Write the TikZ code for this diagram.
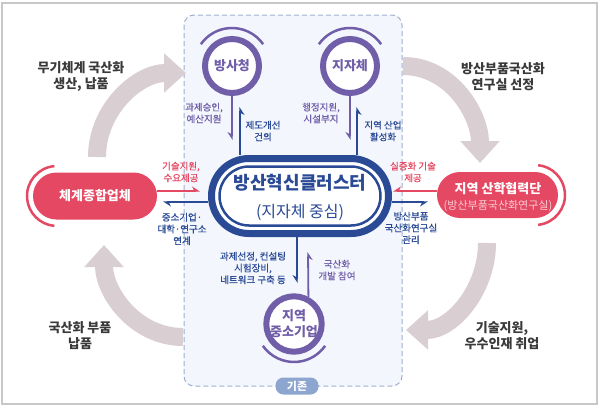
\documentclass[tikz,border=0pt]{standalone}
\usepackage{fontspec}
\setmainfont{Noto Sans CJK KR}
\newfontfamily\medfont{Noto Sans CJK KR}[FakeBold=0.6]
\usetikzlibrary{arrows.meta}
\definecolor{navy}{RGB}{43,74,150}
\definecolor{purp}{RGB}{112,94,168}
\definecolor{redc}{RGB}{229,72,98}
\definecolor{lpink}{RGB}{250,205,212}
\definecolor{arcg}{RGB}{217,206,209}
\definecolor{boxb}{RGB}{157,175,208}
\definecolor{boxf}{RGB}{243,246,252}
\definecolor{pill}{RGB}{140,166,207}
\definecolor{dark}{RGB}{58,58,58}
\definecolor{frame}{RGB}{200,200,200}
\begin{document}
\begin{tikzpicture}[x=1pt,y=1pt,
  bigarc/.style={line width=18pt, draw=arcg, -{Triangle[length=22pt,width=38pt]}},
  ring/.style={circle, draw=purp, line width=6pt, fill=white, minimum size=54pt, inner sep=0pt, text=purp, align=center, font=\bfseries\fontsize{13}{16}\selectfont},
  ringarc/.style={draw=purp, line width=2.5pt},
  lbl/.style={font=\medfont\fontsize{9.5}{11.8}\selectfont, align=center, inner sep=0pt},
  corner/.style={font=\bfseries\fontsize{13}{16}\selectfont, text=dark, align=center, inner sep=0pt},
  redbox/.style={fill=redc, inner sep=0pt},
  redarc/.style={draw=redc, line width=2.5pt},
  harpL/.style={-{Stealth[harpoon, length=7pt, width=9pt]}, line width=1.8pt},
  harpR/.style={-{Stealth[harpoon, swap, length=7pt, width=9pt]}, line width=1.8pt},
]
\useasboundingbox (0,0) rectangle (600,-410);
\fill[white] (0,0) rectangle (600,-410);
\draw[frame, line width=1.2pt] (2,-3) rectangle (597,-404);

% dashed region
\draw[boxb, dash pattern=on 5pt off 3pt, line width=1pt, fill=boxf, rounded corners=10pt] (184,-15) rectangle (402,-386);

% big grey cycle arrows
\coordinate (g1s) at (97,-157);  \coordinate (g1e) at (186,-73);
\coordinate (g2s) at (403,-66);  \coordinate (g2e) at (480,-163);
\coordinate (g3s) at (487,-243); \coordinate (g3e) at (406,-330);
\coordinate (g4s) at (183,-337); \coordinate (g4e) at (104,-245);
\draw[bigarc] (g1s) to[out=90,in=180] (g1e);
\draw[bigarc] (g2s) to[out=0,in=90] (g2e);
\draw[bigarc] (g3s) to[out=-90,in=0] (g3e);
\draw[bigarc] (g4s) to[out=180,in=-90] (g4e);

% pill
\node[fill=pill, rounded corners=8pt, minimum width=43pt, minimum height=17pt, inner sep=0pt, text=white, font=\bfseries\fontsize{11}{12}\selectfont] (gz) at (297,-386) {기존};

% purple circles
\node[ring] (bsc) at (232,-66) {방사청};
\node[ring] (jjc) at (350,-66) {지자체};
\node[ring] (sme) at (294,-324) {지역\\중소기업};
\draw[ringarc] ([shift={(35:38)}]bsc.center) arc[start angle=35, end angle=145, radius=38];
\draw[ringarc] ([shift={(35:38)}]jjc.center) arc[start angle=35, end angle=145, radius=38];
\draw[ringarc] ([shift={(215:38)}]sme.center) arc[start angle=215, end angle=325, radius=38];

% hub
\node[draw=navy, line width=7pt, rounded corners=37.5pt, minimum width=177pt, minimum height=75pt, fill=white, inner sep=0pt] (hub) at (300,-196) {};
\node[draw=navy, line width=2.5pt, rounded corners=29.5pt, minimum width=161pt, minimum height=59pt, inner sep=0pt] (hubin) at (300,-196) {};
\node[text=navy, font=\bfseries\fontsize{18}{20}\selectfont, inner sep=0pt] (t1) at (300,-183) {방산혁신클러스터};
\node[text=navy, font=\fontsize{16}{18}\selectfont, inner sep=0pt] (t2) at (300,-212) {(지자체 중심)};

% red boxes
\node[redbox, rounded corners=23.5pt, minimum width=124pt, minimum height=47pt, text=white, font=\bfseries\fontsize{13}{15}\selectfont] (lbox) at (95,-196) {체계종합업체};
\node[redbox, rounded corners=23pt, minimum width=121pt, minimum height=46pt] (rbox) at (497.5,-195) {};
\node[text=white, font=\bfseries\fontsize{13}{15}\selectfont, inner sep=0pt] (rt1) at (498,-189) {지역 산학협력단};
\node[text=lpink, font=\fontsize{11}{13}\selectfont, inner sep=0pt] (rt2) at (498,-206) {(방산부품국산화연구실)};
\coordinate (lc) at (57,-196);
\coordinate (rc) at (535,-195);
\draw[redarc] ([shift={(95:30)}]lc) arc[start angle=95, end angle=265, radius=30];
\draw[redarc] ([shift={(-84:30)}]rc) arc[start angle=-84, end angle=84, radius=30];

% connectors top
\coordinate (p1) at (232,-140);
\coordinate (b1) at (240,-107);
\coordinate (p2) at (350,-140);
\coordinate (b2) at (357,-107);
\draw[harpR, purp] (bsc.south) -- (p1);
\draw[harpR, navy] (b1 |- hub.north) -- (b1);
\draw[harpR, purp] (jjc.south) -- (p2);
\draw[harpR, navy] (b2 |- hub.north) -- (b2);
% connectors bottom
\coordinate (b3) at (297,-283);
\coordinate (p3) at (308,-252);
\draw[harpR, navy] (b3 |- hub.south) -- (b3);
\draw[harpR, purp] (sme.62) -- (p3);
% connectors left
\coordinate (r1) at (200,-191);
\coordinate (b4) at (163,-202);
\draw[harpL, redc] (r1 -| lbox.east) -- (r1);
\draw[harpL, navy] (b4 -| hub.west) -- (b4);
% connectors right
\coordinate (r2) at (393,-191);
\coordinate (b5) at (428,-202);
\draw[harpR, redc] (r2 -| rbox.west) -- (r2);
\draw[harpR, navy] (b5 -| hub.east) -- (b5);

% small labels
\node[lbl, text=purp] (l1) at (204,-113) {과제승인,\\예산지원};
\node[lbl, text=navy] (l2) at (263,-131) {제도개선\\건의};
\node[lbl, text=purp] (l3) at (321,-113) {행정지원,\\시설부지};
\node[lbl, text=navy] (l4) at (383,-131) {지역 산업\\활성화};
\node[lbl, text=navy] (l5) at (253,-268) {과제선정, 컨설팅\\시험장비,\\네트워크 구축 등};
\node[lbl, text=purp] (l6) at (337,-270) {국산화\\개발 참여};
\node[lbl, text=redc] (l7) at (181,-172) {기술지원,\\수요제공};
\node[lbl, text=navy] (l8) at (182,-229) {중소기업·\\대학·연구소\\연계};
\node[lbl, text=redc] (l9) at (413,-172) {실증화 기술\\제공};
\node[lbl, text=navy] (l10) at (411,-228) {방산부품\\국산화연구실\\관리};

% corner texts
\node[corner] (c1) at (81,-76) {무기체계 국산화\\생산, 납품};
\node[corner] (c2) at (503,-77) {방산부품국산화\\연구실 선정};
\node[corner] (c3) at (80,-336) {국산화 부품\\납품};
\node[corner] (c4) at (502,-336) {기술지원,\\우수인재 취업};
\end{tikzpicture}
\end{document}
